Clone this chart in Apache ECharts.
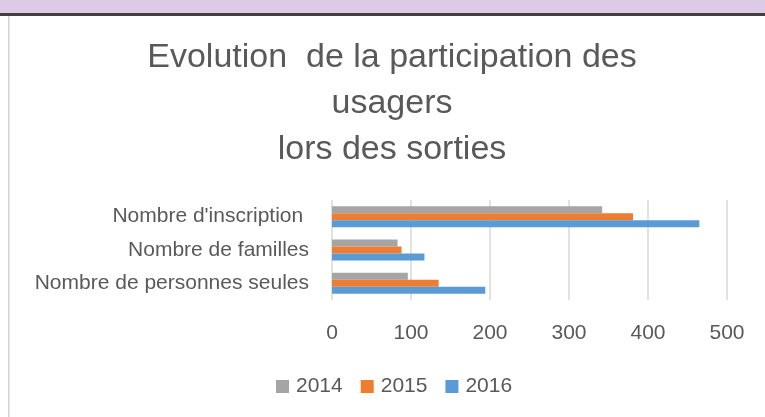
<!DOCTYPE html>
<html>
<head>
<meta charset="utf-8">
<script src="https://cdn.jsdelivr.net/npm/echarts@6/dist/echarts.min.js"></script>
<style>
  html, body { margin: 0; padding: 0; background: #fff; }
  #main { width: 765px; height: 417px; }
</style>
</head>
<body>
<div id="main"></div>
<script>
// categories, top to bottom
var categories = ["Nombre d'inscription ", 'Nombre de familles', 'Nombre de personnes seules'];
var years = ['2014', '2015', '2016'];
var values2014 = [342, 83, 96];
var values2015 = [381, 88, 135];
var values2016 = [465, 117, 194];
var colors = ['#A5A5A5', '#ED7D31', '#5B9BD5'];
var xTicks = [0, 100, 200, 300, 400, 500];

var myChart = echarts.init(document.getElementById('main'));
var font = 'Liberation Sans, Arial, sans-serif';
var textColor = '#595959';

var allValues = [values2014, values2015, values2016];
var series = [];
for (var i = 0; i < years.length; i++) {
    series.push({
        name: years[i],
        type: 'bar',
        data: allValues[i],
        barWidth: 7,
        barGap: '0%',
        itemStyle: { color: colors[i] }
    });
}

var option = {
    animation: false,
    textStyle: { fontFamily: font },
    graphic: [
        { type: 'rect', shape: { x: 0, y: 0, width: 765, height: 13 }, style: { fill: '#DDCBE6' } },
        { type: 'rect', shape: { x: 0, y: 13, width: 765, height: 3 }, style: { fill: '#404040' } },
        { type: 'rect', shape: { x: 8, y: 16, width: 1.5, height: 401 }, style: { fill: '#D4D4D4' } }
    ],
    title: {
        text: 'Evolution  de la participation des\nusagers\nlors des sorties',
        left: 387,
        top: 30,
        textAlign: 'center',
        textStyle: {
            fontFamily: font,
            fontSize: 34,
            fontWeight: 'normal',
            color: textColor,
            lineHeight: 46
        }
    },
    legend: {
        data: years,
        left: 276,
        top: 376,
        padding: 0,
        itemWidth: 13,
        itemHeight: 13,
        itemGap: 18,
        icon: 'rect',
        textStyle: { fontFamily: font, fontSize: 21, color: textColor, padding: [0, 0, 0, 2] }
    },
    grid: { left: 332, right: 38, top: 200, bottom: 117, containLabel: false },
    xAxis: {
        type: 'value',
        min: xTicks[0],
        max: xTicks[xTicks.length - 1],
        interval: 100,
        axisLine: { show: false },
        axisTick: { show: false },
        axisLabel: { fontFamily: font, fontSize: 21, color: textColor, margin: 23 },
        splitLine: { lineStyle: { color: '#D9D9D9', width: 1.5 } }
    },
    yAxis: {
        type: 'category',
        inverse: true,
        data: categories,
        axisLine: { show: false },
        axisTick: { show: false },
        axisLabel: { fontFamily: font, fontSize: 21, color: textColor, margin: 23 }
    },
    series: series
};
myChart.setOption(option);
</script>
</body>
</html>
